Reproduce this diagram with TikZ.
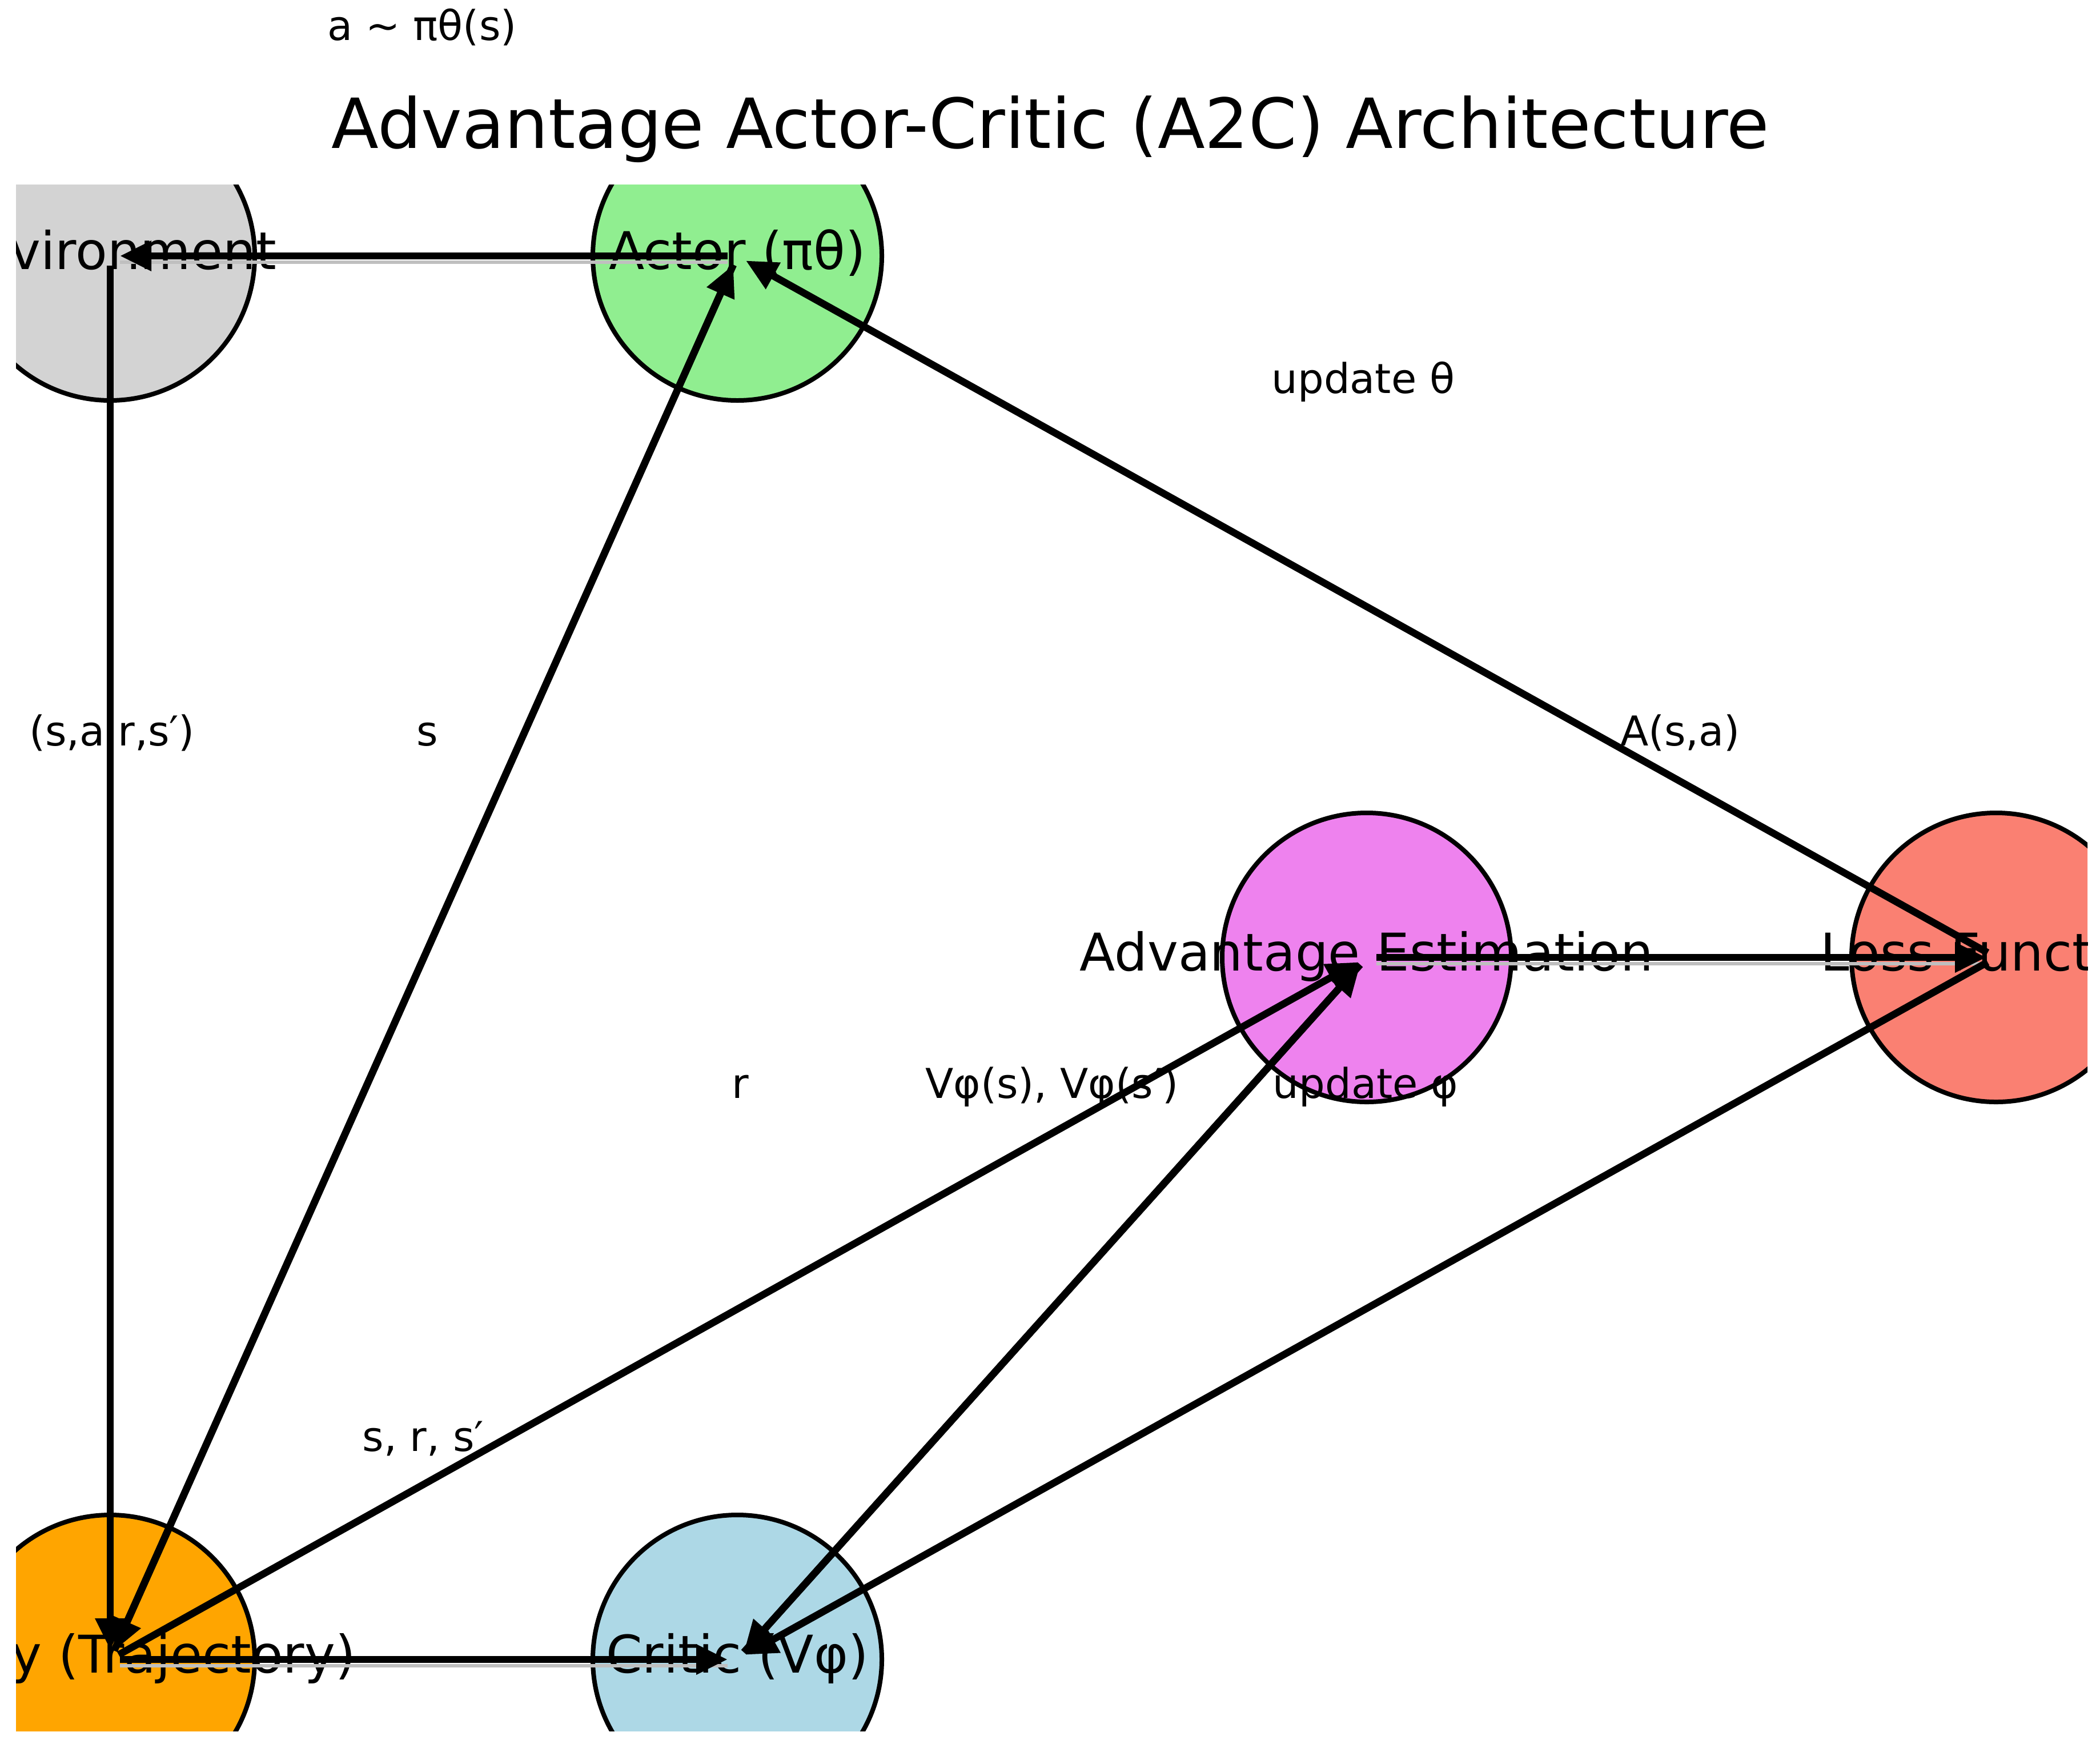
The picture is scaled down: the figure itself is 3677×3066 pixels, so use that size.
\documentclass[tikz,border=0pt]{standalone}
\usepackage{fontspec}
\setmainfont{DejaVu Sans}
\usetikzlibrary{arrows.meta}
\definecolor{envc}{HTML}{D3D3D3}
\definecolor{actc}{HTML}{90EE90}
\definecolor{advc}{HTML}{EE82EE}
\definecolor{lossc}{HTML}{FA8072}
\definecolor{memc}{HTML}{FFA500}
\definecolor{critc}{HTML}{ADD8E6}
\begin{document}
\begin{tikzpicture}[x=0.2pt,y=-0.2pt,
  statenode/.style={circle, draw=black, line width=1.6pt, minimum size=101.2pt, inner sep=0pt, outer sep=0pt},
  nodelabel/.style={font=\fontsize{18.2}{20}\selectfont, text height=13.8pt, text depth=4.4pt, inner sep=0pt},
  edgelabel/.style={font=\fontsize{14.4}{16}\selectfont, text height=11pt, text depth=3.5pt, inner sep=0pt},
  flow/.style={line width=2.5pt, -{Triangle[length=11pt,width=10pt]}, shorten >=3.4pt, shorten <=3.4pt},
  ghost/.style={black!25, line width=1.2pt},
]
\useasboundingbox (0,0) rectangle (3677,3066);
\fill[white] (0,0) rectangle (3677,3066);
\begin{scope}
\clip (28,323) rectangle (3655,3030);
\node[statenode, fill=envc] (env) at (193,448) {};
\node[statenode, fill=actc] (actor) at (1291,448) {};
\node[statenode, fill=advc] (adv) at (2393,1676) {};
\node[statenode, fill=lossc] (loss) at (3495,1676) {};
\node[statenode, fill=memc] (mem) at (193,2905) {};
\node[statenode, fill=critc] (critic) at (1291,2905) {};
\node[nodelabel] (envt) at (env.center) {Environment};
\node[nodelabel] (actort) at (actor.center) {Actor (πθ)};
\node[nodelabel] (advt) at (adv.center) {Advantage Estimation};
\node[nodelabel] (losst) at (loss.center) {Loss Function};
\node[nodelabel, xshift=-6pt] (memt) at (mem.center) {Memory (Trajectory)};
\node[nodelabel] (critict) at (critic.center) {Critic (Vφ)};
% faint doubling under the horizontal lines
\draw[ghost, shorten <=3.4pt, shorten >=3.4pt] ([yshift=-2.2pt]actor.center) -- ([yshift=-2.2pt]env.center);
\draw[ghost, shorten <=3.4pt, shorten >=3.4pt] ([yshift=-2.2pt]adv.center) -- ([yshift=-2.2pt]loss.center);
\draw[ghost, shorten <=3.4pt, shorten >=3.4pt] ([yshift=-2.2pt]mem.center) -- ([yshift=-2.2pt]critic.center);
% connectors
\draw[flow] (actor.center) -- (env.center);
\draw[flow] (env.center) -- (mem.center);
\draw[flow] (mem.center) -- (actor.center);
\draw[flow] (actor.center) -- (mem.center);
\draw[flow] (mem.center) -- (critic.center);
\draw[flow] (mem.center) -- (adv.center);
\draw[flow] (critic.center) -- (adv.center);
\draw[flow] (adv.center) -- (critic.center);
\draw[flow] (adv.center) -- (loss.center);
\draw[flow] (loss.center) -- (actor.center);
\draw[flow] (loss.center) -- (critic.center);
\end{scope}
% title
\node[font=\fontsize{24.2}{28}\selectfont, anchor=base, inner sep=0pt] (title) at (1839,259) {Advantage Actor-Critic (A2C) Architecture};
% edge labels
\node[edgelabel] (l1) at (739,52) {a \textasciitilde{} πθ(s)};
\node[edgelabel] (l2) at (2387,670) {update θ};
\node[edgelabel] (l3) at (196,1287) {(s,a,r,s′)};
\node[edgelabel] (l4) at (748,1287) {s};
\node[edgelabel] (l5) at (2942,1287) {A(s,a)};
\node[edgelabel] (l6) at (1296,1904) {r};
\node[edgelabel] (l7) at (1842,1904) {Vφ(s), Vφ(s′)};
\node[edgelabel] (l8) at (2391,1904) {update φ};
\node[edgelabel] (l9) at (741,2522) {s, r, s′};
\end{tikzpicture}
\end{document}
